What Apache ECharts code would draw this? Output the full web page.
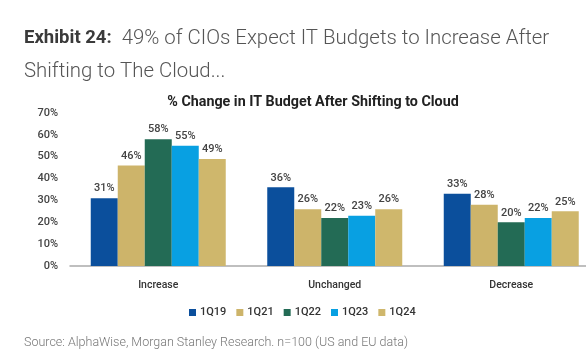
<!DOCTYPE html>
<html>
<head>
  <meta charset="utf-8">
  <title>Exhibit 24</title>
  <script src="https://cdn.jsdelivr.net/npm/echarts@6/dist/echarts.min.js"></script>
</head>
<style>
  html,
  body {
    margin: 0;
    padding: 0;
    background: #fff;
  }
</style>

<body>
  <div id="chart" style="width: 586px; height: 352px;"></div>

  <script>
    // 数据
    const categories = ['Increase', 'Unchanged', 'Decrease'];
    const seriesNames = ['1Q19', '1Q21', '1Q22', '1Q23', '1Q24'];
    const v1Q19 = [31, 36, 33];
    const v1Q21 = [46, 26, 28];
    const v1Q22 = [58, 22, 20];
    const v1Q23 = [55, 23, 22];
    const v1Q24 = [49, 26, 25];
    const yTicks = [0, 10, 20, 30, 40, 50, 60, 70];

    const colors = ['#0b4f9c', '#cdb46a', '#236b55', '#08a0e2', '#cfb76c'];
    const values = [v1Q19, v1Q21, v1Q22, v1Q23, v1Q24];
    const font = 'Roboto';

    const chart = echarts.init(document.getElementById('chart'));
    const option = {
      animation: false,
      title: [
        {
          left: 19,
          top: 17,
          text: '{b|Exhibit 24:}  {n|49% of CIOs Expect IT Budgets to Increase After}\n{n|Shifting to The Cloud...}',
          textStyle: {
            lineHeight: 33,
            rich: {
              b: { fontFamily: font, fontWeight: 'bold', fontSize: 18.5, color: '#3a3a3a', lineHeight: 33 },
              n: { fontFamily: font, fontWeight: 300, fontSize: 20.4, color: '#555', lineHeight: 33 }
            }
          }
        },
        {
          left: 308,
          textAlign: 'center',
          top: 90,
          text: '% Change in IT Budget After Shifting to Cloud',
          textStyle: { fontFamily: font, fontWeight: 'bold', fontSize: 14.3, color: '#222' }
        },
        {
          left: 19,
          top: 331,
          text: 'Source: AlphaWise, Morgan Stanley Research. n=100 (US and EU data)',
          textStyle: { fontFamily: font, fontWeight: 300, fontSize: 12.5, color: '#777' }
        }
      ],
      legend: {
        left: 184,
        top: 302,
        itemWidth: 7,
        itemHeight: 7,
        itemGap: 10,
        icon: 'rect',
        data: seriesNames,
        textStyle: { fontFamily: font, fontWeight: 500, fontSize: 11, color: '#333', padding: [0, 0, 0, -1] }
      },
      // 网格比画布宽，最右一组柱子贴到边上
      grid: { left: 70, width: 529.5, top: 113, bottom: 86, outerBoundsMode: 'none', containLabel: false },
      xAxis: {
        type: 'category',
        data: categories,
        axisTick: { show: false },
        axisLine: { lineStyle: { color: '#aaa', width: 1.5 } },
        axisLabel: { fontFamily: font, fontWeight: 500, fontSize: 10.5, color: '#333', margin: 14 }
      },
      yAxis: {
        type: 'value',
        min: yTicks[0],
        max: yTicks[yTicks.length - 1],
        interval: 10,
        splitLine: { show: false },
        axisLine: { show: false },
        axisTick: { show: false },
        axisLabel: { fontFamily: font, fontWeight: 500, fontSize: 11, color: '#444', margin: 12, formatter: '{value}%' }
      },
      series: seriesNames.map((name, i) => ({
        name: name,
        type: 'bar',
        data: values[i],
        barWidth: 27,
        barGap: '0%',
        itemStyle: { color: colors[i] },
        label: {
          show: true,
          position: 'top',
          distance: 4,
          formatter: '{c}%',
          fontFamily: font,
          fontWeight: 500,
          fontSize: 11,
          color: '#444'
        }
      }))
    };
    chart.setOption(option);
  </script>
</body>
</html>
